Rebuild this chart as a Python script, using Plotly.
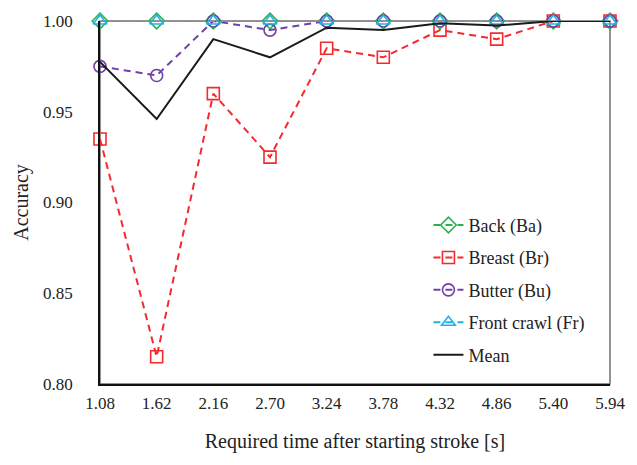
import plotly.graph_objects as go

times = [1.08, 1.62, 2.16, 2.70, 3.24, 3.78, 4.32, 4.86, 5.40, 5.94]
tick_labels = ["1.08", "1.62", "2.16", "2.70", "3.24", "3.78", "4.32", "4.86", "5.40", "5.94"]
back = [1.0, 1.0, 1.0, 1.0, 1.0, 1.0, 1.0, 1.0, 1.0, 1.0]
breast = [0.935, 0.815, 0.960, 0.925, 0.985, 0.980, 0.995, 0.990, 1.0, 1.0]
butter = [0.975, 0.970, 1.0, 0.995, 1.0, 1.0, 1.0, 1.0, 1.0, 1.0]
front = [1.0, 1.0, 1.0, 1.0, 1.0, 1.0, 1.0, 1.0, 1.0, 1.0]
mean = [0.9775, 0.946, 0.990, 0.980, 0.9963, 0.995, 0.9988, 0.9975, 1.0, 1.0]

FONT = "Liberation Serif, Times New Roman, serif"
fig = go.Figure()

series = [
    ("Back (Ba)", back, "#2bb24c", "diamond-open"),
    ("Breast (Br)", breast, "#f42a2f", "square-open"),
    ("Butter (Bu)", butter, "#7040a8", "circle-open"),
    ("Front crawl (Fr)", front, "#1fb2e6", "triangle-up-open"),
]
for i, (name, vals, col, sym) in enumerate(series):
    fig.add_trace(go.Scatter(
        x=times, y=vals, name=name, mode="lines+markers",
        line=dict(color=col, width=2, dash="7px,5px"),
        marker=dict(symbol=sym, size=12, color=col, line=dict(width=1.6, color=col)),
        legendgroup=str(i), cliponaxis=False,
    ))
fig.add_trace(go.Scatter(
    x=times, y=mean, name="Mean", mode="lines",
    line=dict(color="#1a1a1a", width=2), legendgroup="4", cliponaxis=False,
))

fig.add_shape(type="rect", xref="paper", yref="paper", x0=0, x1=1, y0=0, y1=1,
              line=dict(color="#707070", width=1.5), layer="below")

fig.update_layout(
    width=637, height=465,
    margin=dict(l=100, r=26, t=17.5, b=81),
    paper_bgcolor="white", plot_bgcolor="white",
    font=dict(family=FONT, size=17, color="#222"),
    showlegend=True,
    legend=dict(x=0.644, y=0.488, xanchor="left", yanchor="top",
                bgcolor="rgba(0,0,0,0)", tracegroupgap=6,
                font=dict(family=FONT, size=18, color="#222")),
    xaxis=dict(range=[1.08, 5.94], tickmode="array", tickvals=times, ticktext=tick_labels,
               showgrid=False, zeroline=False, showline=True, linecolor="#111", linewidth=1.5,
               ticks="", ticklabelstandoff=3,
               title=dict(text="Required time after starting stroke [s]", standoff=22,
                          font=dict(family=FONT, size=20))),
    yaxis=dict(range=[0.80, 1.00], tickmode="array",
               tickvals=[0.80, 0.85, 0.90, 0.95, 1.00],
               ticktext=["0.80", "0.85", "0.90", "0.95", "1.00"],
               showgrid=False, zeroline=False, showline=True, linecolor="#111", linewidth=1.5,
               ticks="", ticklabelstandoff=22,
               title=dict(text="Accuracy", standoff=9, font=dict(family=FONT, size=20))),
)

fig.write_html("out.html")
